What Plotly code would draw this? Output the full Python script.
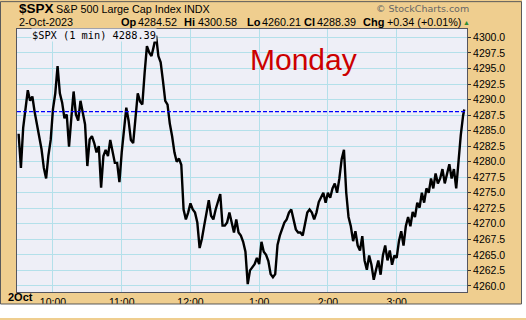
import plotly.graph_objects as go
import pandas as pd

# ---- data ----
session_date = "2023-10-02"
start_time = "09:30"
step_minutes = 2
prices = [
    4284.5, 4279.0, 4285.5, 4289.0, 4291.5, 4289.8, 4290.5, 4288.0, 4286.0, 4284.3,
    4282.0, 4279.0, 4277.3, 4281.0, 4283.5, 4288.5, 4291.0, 4295.4, 4291.0, 4289.5,
    4287.0, 4287.6, 4282.4, 4287.0, 4291.3, 4287.6, 4286.6, 4289.8, 4287.6, 4286.0,
    4279.3, 4283.6, 4284.1, 4283.0, 4281.5, 4282.5, 4275.8, 4280.9, 4281.9, 4280.9,
    4283.5, 4281.5, 4279.8, 4279.8, 4276.7, 4281.5, 4285.1, 4288.7, 4286.6, 4283.5,
    4283.0, 4286.6, 4291.0, 4289.7, 4289.2, 4294.3, 4298.6, 4297.6, 4297.0, 4298.6,
    4300.3, 4297.0, 4296.0, 4293.0, 4289.8, 4289.2, 4286.1, 4284.1, 4281.5, 4280.0,
    4280.5, 4279.5, 4272.3, 4270.7, 4271.8, 4273.3, 4272.3, 4271.8, 4270.2, 4266.1,
    4267.6, 4269.7, 4271.8, 4273.8, 4271.3, 4270.7, 4272.3, 4273.5, 4274.8, 4269.7,
    4269.7, 4270.2, 4271.8, 4270.2, 4268.6, 4270.7, 4268.6, 4268.1, 4267.1, 4265.5,
    4260.3, 4262.5, 4263.0, 4263.5, 4264.5, 4263.5, 4267.1, 4265.5, 4265.0, 4264.0,
    4261.9, 4261.4, 4261.9, 4266.6, 4268.1, 4269.1, 4270.2, 4270.7, 4271.8, 4272.3,
    4270.7, 4269.1, 4268.6, 4268.6, 4268.1, 4270.2, 4271.8, 4272.3, 4271.8, 4270.7,
    4271.8, 4273.5, 4274.2, 4275.0, 4273.4, 4275.0, 4274.2, 4275.7, 4276.5, 4275.0,
    4277.3, 4280.4, 4281.9, 4275.0, 4271.1, 4269.6, 4267.2, 4268.8, 4266.5, 4265.7,
    4268.0, 4264.1, 4262.6, 4264.9, 4263.4, 4261.0, 4262.6, 4264.1, 4261.8, 4264.9,
    4266.5, 4264.1, 4265.7, 4263.4, 4264.9, 4264.5, 4267.2, 4268.8, 4266.5, 4269.6,
    4271.1, 4269.6, 4271.9, 4271.1, 4273.4, 4272.6, 4275.0, 4273.4, 4275.7, 4275.0,
    4277.3, 4275.7, 4278.1, 4276.5, 4277.3, 4278.8, 4276.5, 4278.1, 4279.6, 4277.3,
    4278.8, 4275.7, 4280.4, 4284.3, 4287.4,
]
last_time = "15:59"
last_price = 4288.39
prev_close = 4288.05

y_ticks = [4260.0 + 2.5 * i for i in range(17)]
x_tick_times = ["10:00", "11:00", "12:00", "13:00", "14:00", "15:00"]
x_tick_labels = ["10:00", "11:00", "12:00", "1:00", "2:00", "3:00"]

title_symbol = "$SPX"
title_name = "S&P 500 Large Cap Index"
title_exch = "INDX"
date_label = "2-Oct-2023"
ohlc_labels = ["Op", "Hi", "Lo", "Cl", "Chg"]
ohlc_values = ["4284.52", "4300.58", "4260.21", "4288.39", "+0.34 (+0.01%)"]
legend_text = "$SPX (1 min) 4288.39"
day_note = "Monday"
corner_date = "2Oct"
credit = "\u00a9 StockCharts.com"

# ---- build ----
times = list(pd.date_range(f"{session_date} {start_time}", periods=len(prices),
                           freq=f"{step_minutes}min"))
times.append(pd.Timestamp(f"{session_date} {last_time}"))
vals = prices + [last_price]

W, H = 526, 320
L, R, T, B = 17, 59, 29, 17
PW, PH = W - L - R, H - T - B

def px(x):
    return (x - L) / PW

def py(y):
    return (T + PH - y) / PH

TAN = "#EFCE8F"
PLOTBG = "#EEEFF7"
GRID = "#B3E0EA"

fig = go.Figure()
fig.add_trace(go.Scatter(x=times, y=vals, mode="lines",
                         line=dict(color="black", width=2.4), hoverinfo="skip",
                         showlegend=False))

fig.add_shape(type="line", xref="paper", yref="y", x0=0, x1=1,
              y0=prev_close, y1=prev_close, layer="above",
              line=dict(color="#0000FF", width=1.3, dash="4px,2px"))

ann = []
def text(x, y, s, size=10.5, color="black", bold=False, family="Liberation Sans, Arial",
         xanchor="left", bg=None):
    d = dict(xref="paper", yref="paper", x=px(x), y=py(y), text=f"<b>{s}</b>" if bold else s,
             showarrow=False, xanchor=xanchor, yanchor="middle",
             font=dict(size=size, color=color, family=family))
    if bg:
        d["bgcolor"] = bg
        d["borderpad"] = 0
    ann.append(d)

text(17, 8, title_symbol, size=13.5, bold=True)
text(54, 8, title_name, size=10.8)
text(182, 8, title_exch, size=10.8)
text(471, 8, credit, size=9.5, color="#666666", family="DejaVu Sans", xanchor="right")
text(17, 22, date_label, size=10.8)

lab_x = [119, 182, 245, 302, 361]
val_x = [136, 196, 260, 315, 385]
for lx, vx, lb, v in zip(lab_x, val_x, ohlc_labels, ohlc_values):
    text(lx, 22, lb, size=11, bold=True)
    text(vx, 22, v, size=10.8)
text(466, 22, "\u25B2", size=7, color="#2E8B2E", xanchor="center")

text(31, 35, legend_text, size=10.3, family="DejaVu Sans Mono", bg=PLOTBG)
text(303, 61, day_note, size=30, color="#CC0000", xanchor="center")
text(6, 308.5, corner_date, size=11, bold=True)

fig.update_layout(annotations=ann)

# outer frame
fig.add_shape(type="rect", xref="paper", yref="paper", x0=px(522), x1=px(530),
              y0=py(-5), y1=py(330), fillcolor="white", line=dict(width=0), layer="above")
fig.add_shape(type="rect", xref="paper", yref="paper", x0=px(-5), x1=px(530),
              y0=py(315.5), y1=py(330), fillcolor="white", line=dict(width=0), layer="above")
fig.add_shape(type="rect", xref="paper", yref="paper", x0=px(0.5), x1=px(521.5),
              y0=py(315.5), y1=py(0.5), line=dict(color="#5A5A5A", width=1), layer="above")

x0 = pd.Timestamp(f"{session_date} 09:28:35")
x1 = pd.Timestamp(f"{session_date} 16:01:25")
fig.update_xaxes(range=[x0, x1], tickvals=[pd.Timestamp(f"{session_date} {t}") for t in x_tick_times],
                 ticktext=x_tick_labels, showgrid=True, gridcolor=GRID, gridwidth=1,
                 showline=True, linecolor="#55555F", linewidth=1, mirror=True,
                 ticks="", tickfont=dict(size=10.5, family="Liberation Sans, Arial", color="black"),
                 zeroline=False)
fig.update_yaxes(range=[4259.02, 4301.36], side="right", tickvals=y_ticks,
                 ticktext=[f"{v:.1f}" for v in y_ticks], showgrid=True, gridcolor=GRID,
                 gridwidth=1, showline=True, linecolor="#55555F", linewidth=1, mirror=True,
                 ticks="outside", ticklen=3, tickcolor="#333333",
                 tickfont=dict(size=10.5, family="Liberation Sans, Arial", color="black"),
                 zeroline=False)

fig.update_layout(width=W, height=H, margin=dict(l=L, r=R, t=T, b=B, pad=0),
                  paper_bgcolor=TAN, plot_bgcolor=PLOTBG, showlegend=False)

fig.write_html("out.html")
